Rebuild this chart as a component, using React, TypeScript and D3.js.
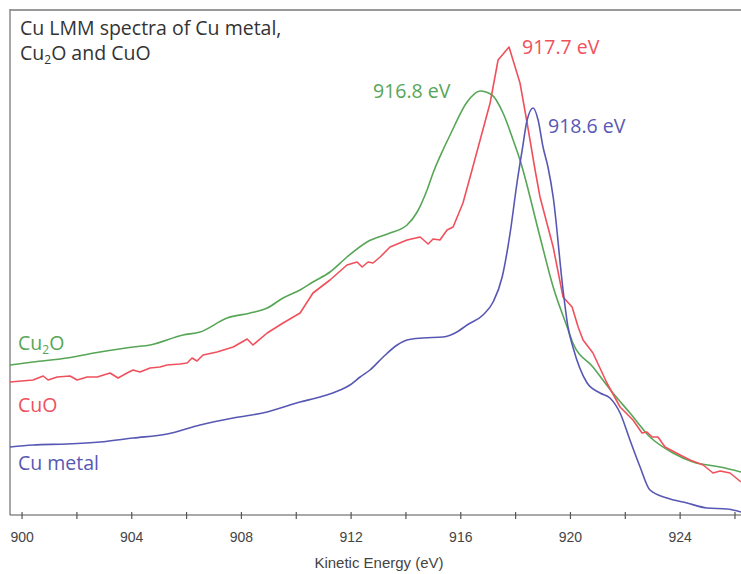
import React from "react";
import * as d3 from "d3";

// ---- data (kinetic energy in eV, intensity in arbitrary units) ----
const cu2oEnergy = [899.56, 900.4, 901.64, 902.84, 904.05, 904.67, 905.87, 906.49, 907.48, 908.32, 908.94, 909.52, 910.14, 910.61, 911.23, 911.85, 912.58, 913.42, 914.04, 914.41, 914.77, 914.99, 915.35, 915.61, 916.23, 916.7, 917.14, 917.54, 917.91, 918.16, 918.89, 919.37, 919.88, 920.09, 920.82, 921.55, 922.17, 922.9, 923.74, 924.47, 925.46, 926.22];
const cu2oIntensity = [150, 153, 157, 163, 168, 170, 180, 183, 197, 202, 207, 217, 225, 233, 243, 258, 273, 282, 290, 303, 325, 342, 365, 380, 413, 424, 420, 402, 375, 355, 278, 228, 188, 172, 148, 122, 102, 78, 62, 53, 48, 43];

const cuoEnergy = [899.56, 900.4, 900.77, 900.95, 901.28, 901.75, 902.01, 902.37, 902.74, 903.21, 903.5, 903.83, 904.05, 904.3, 904.67, 905.03, 905.29, 905.76, 906.02, 906.2, 906.38, 906.6, 907.11, 907.7, 908.21, 908.42, 908.94, 909.52, 910.14, 910.61, 911.23, 911.85, 912.22, 912.4, 912.62, 912.8, 913.06, 913.42, 914.04, 914.52, 914.81, 914.99, 915.24, 915.5, 915.72, 916.08, 916.41, 917.07, 917.36, 917.76, 918.16, 918.42, 918.71, 918.89, 919.37, 919.73, 920.06, 920.28, 920.46, 920.82, 921.33, 921.81, 922.28, 922.61, 922.79, 922.98, 923.19, 923.45, 924.0, 924.36, 924.84, 925.2, 925.46, 925.82, 926.22];
const cuoIntensity = [133, 135, 139, 135, 138, 139, 135, 138, 138, 142, 137, 142, 145, 143, 147, 148, 150, 151, 152, 157, 154, 160, 163, 168, 176, 170, 182, 192, 202, 222, 235, 250, 253, 248, 253, 252, 258, 268, 275, 278, 271, 276, 275, 285, 288, 312, 345, 412, 455, 468, 432, 392, 345, 318, 268, 218, 208, 188, 175, 162, 132, 108, 95, 82, 83, 78, 78, 68, 60, 55, 50, 42, 44, 42, 33];

const cuEnergy = [899.56, 900.4, 901.64, 902.84, 904.05, 905.29, 906.49, 907.7, 908.94, 910.14, 910.87, 911.6, 911.96, 912.33, 912.69, 913.17, 913.68, 914.04, 914.62, 915.35, 915.86, 916.23, 916.81, 917.18, 917.51, 917.8, 918.05, 918.24, 918.42, 918.64, 918.82, 919.0, 919.18, 919.37, 919.73, 919.91, 920.09, 920.61, 921.08, 921.44, 921.81, 922.17, 922.54, 922.9, 923.52, 924.25, 924.98, 925.71, 926.22];
const cuIntensity = [68, 70, 71, 73, 77, 81, 90, 97, 103, 113, 118, 125, 130, 138, 145, 158, 170, 175, 177, 178, 183, 190, 200, 213, 238, 282, 332, 365, 395, 407, 395, 368, 348, 318, 225, 188, 168, 132, 122, 117, 102, 75, 48, 25, 17, 12, 7, 6, 3];

const tickValues = [900, 902, 904, 906, 908, 910, 912, 914, 916, 918, 920, 922, 924, 926];
const labelledTicks = [900, 904, 908, 912, 916, 920, 924];

const seriesNames = ["Cu\u2082O", "CuO", "Cu metal"];
const peakLabels = ["916.8 eV", "917.7 eV", "918.6 eV"];

const GREEN = "#57a657";
const RED = "#f0505c";
const BLUE = "#5858b4";
const FONT = "'Open Sans', sans-serif";
const FS = 19.5;

export default function App() {
  const W = 741;
  const H = 574;
  const x = d3.scaleLinear().domain([899.56, 926.22]).range([10, 741]);
  const y = d3.scaleLinear().domain([0, 505]).range([515, 10]);

  const mk = (e: number[], v: number[], curve: d3.CurveFactory) =>
    d3
      .line<number>()
      .x((_, i) => x(e[i]))
      .y((d) => y(d))
      .curve(curve)(v) as string;

  const series = [
    { e: cu2oEnergy, v: cu2oIntensity, c: GREEN, curve: d3.curveMonotoneX },
    { e: cuoEnergy, v: cuoIntensity, c: RED, curve: d3.curveLinear },
    { e: cuEnergy, v: cuIntensity, c: BLUE, curve: d3.curveMonotoneX },
  ];

  return (
    <svg
      width={W}
      height={H}
      style={{ position: "absolute", left: 0, top: 0, background: "#fff" }}
    >
      <rect x={0} y={0} width={W} height={H} fill="#fff" />
      {/* frame */}
      <line x1={10} x2={741} y1={10} y2={10} stroke="#9a9a9a" strokeWidth={2} />
      <line x1={10} x2={10} y1={9} y2={515} stroke="#8a8a8a" strokeWidth={1.5} />
      <line x1={10} x2={741} y1={515} y2={515} stroke="#555" strokeWidth={1.2} />
      {tickValues.map((t) => (
        <line key={t} x1={x(t)} x2={x(t)} y1={512} y2={519} stroke="#555" strokeWidth={1.2} />
      ))}
      {labelledTicks.map((t) => (
        <text
          key={t}
          x={x(t)}
          y={542}
          textAnchor="middle"
          fontFamily="'Liberation Sans', Arial, sans-serif"
          fontSize={14}
          fill="#444"
        >
          {t}
        </text>
      ))}
      <text
        x={379}
        y={568}
        textAnchor="middle"
        fontFamily="'Liberation Sans', Arial, sans-serif"
        fontSize={15}
        fill="#444"
      >
        Kinetic Energy (eV)
      </text>

      {series.map((s, i) => (
        <path key={i} d={mk(s.e, s.v, s.curve)} fill="none" stroke={s.c} strokeWidth={1.6} strokeLinejoin="round" />
      ))}

      {/* title */}
      <text x={20} y={35} fontFamily={FONT} fontSize={FS} fill="#333">
        Cu LMM spectra of Cu metal,
      </text>
      <text x={20} y={60} fontFamily={FONT} fontSize={FS} fill="#333">
        Cu<tspan fontSize={12} dy={4}>2</tspan>
        <tspan dy={-4}>O and CuO</tspan>
      </text>

      {/* series labels */}
      <text x={18} y={350} fontFamily={FONT} fontSize={FS} fill={GREEN}>
        Cu<tspan fontSize={12} dy={4}>2</tspan>
        <tspan dy={-4}>O</tspan>
      </text>
      <text x={18} y={412} fontFamily={FONT} fontSize={FS} fill={RED}>
        {seriesNames[1]}
      </text>
      <text x={18} y={470} fontFamily={FONT} fontSize={FS} fill={BLUE}>
        {seriesNames[2]}
      </text>

      {/* peak labels */}
      <text x={373} y={98} fontFamily={FONT} fontSize={FS} fill={GREEN}>
        {peakLabels[0]}
      </text>
      <text x={522} y={54} fontFamily={FONT} fontSize={FS} fill={RED}>
        {peakLabels[1]}
      </text>
      <text x={548} y={133} fontFamily={FONT} fontSize={FS} fill={BLUE}>
        {peakLabels[2]}
      </text>
    </svg>
  );
}
